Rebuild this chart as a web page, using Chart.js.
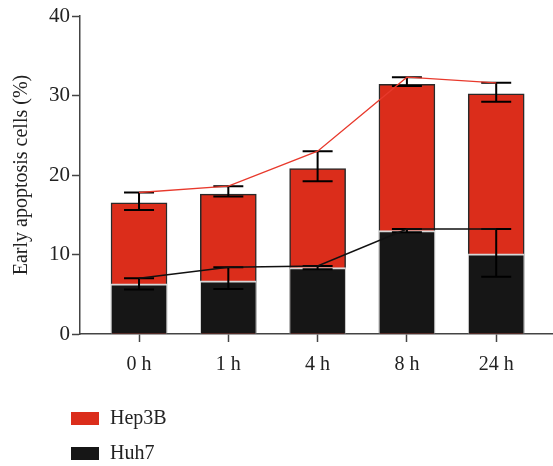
<!DOCTYPE html>
<html>
<head>
<meta charset="utf-8">
<script src="https://cdn.jsdelivr.net/npm/chart.js@4/dist/chart.umd.min.js"></script>
<style>
  html, body { margin: 0; padding: 0; background: #fff; }
  #chart { display: block; }
</style>
</head>
<body>
<canvas id="chart" width="553" height="466"></canvas>
<script>
// ---- data ----
const categories = ['0 h', '1 h', '4 h', '8 h', '24 h'];

const hep3bMean = [16.5, 17.6, 20.8, 31.4, 30.2];
const hep3bErrHigh = [17.8, 18.6, 23.0, 32.3, 31.6];
const hep3bErrLow = [15.6, 17.3, 19.2, 31.2, 29.2];

const huh7Mean = [6.3, 6.7, 8.35, 13.0, 10.1];
const huh7ErrHigh = [7.0, 8.4, 8.55, 13.2, 13.2];
const huh7ErrLow = [5.6, 5.65, 8.15, 12.8, 7.2];

const yTicks = [0, 10, 20, 30, 40];

const RED = '#db2d1b';
const BLACK = '#161616';
const FONT = "'Liberation Serif', 'DejaVu Serif', serif";

const toPoints = arr => arr.map((v, i) => ({ x: i, y: v }));

// error bars drawn right after their bar dataset
const errorBarPlugin = {
    id: 'errorBars',
    afterDatasetDraw(chart, args) {
        const ds = chart.data.datasets[args.index];
        if (!ds.errHigh) return;
        const { ctx } = chart;
        const y = chart.scales.y;
        ctx.save();
        ctx.strokeStyle = '#000';
        ctx.lineWidth = 2;
        args.meta.data.forEach((bar, i) => {
            const x = bar.x;
            const yHi = y.getPixelForValue(ds.errHigh[i]);
            const yLo = y.getPixelForValue(ds.errLow[i]);
            ctx.beginPath();
            ctx.moveTo(x, yHi);
            ctx.lineTo(x, yLo);
            ctx.moveTo(x - 15, yHi);
            ctx.lineTo(x + 15, yHi);
            ctx.moveTo(x - 15, yLo);
            ctx.lineTo(x + 15, yLo);
            ctx.stroke();
        });
        ctx.restore();
    }
};

// vertical legend under the x axis
const sideLegendPlugin = {
    id: 'sideLegend',
    afterDraw(chart) {
        const { ctx } = chart;
        const items = chart.data.datasets.filter(d => d.type === 'bar');
        ctx.save();
        ctx.font = `20px ${FONT}`;
        ctx.textBaseline = 'middle';
        items.forEach((d, i) => {
            const top = 412 + i * 35;
            ctx.fillStyle = d.backgroundColor;
            ctx.fillRect(71, top, 28, 13);
            ctx.fillStyle = '#222';
            ctx.fillText(d.label, 110, top + 6.5);
        });
        ctx.restore();
    }
};

const ctx = document.getElementById('chart').getContext('2d');

new Chart(ctx, {
    data: {
        datasets: [
            {
                type: 'line',
                label: 'Hep3B trend',
                data: toPoints(hep3bErrHigh),
                borderColor: '#e8392c',
                borderWidth: 1.3,
                pointRadius: 0,
                tension: 0,
                order: 0
            },
            {
                type: 'line',
                label: 'Huh7 trend',
                data: toPoints(huh7ErrHigh),
                borderColor: '#111',
                borderWidth: 1.5,
                pointRadius: 0,
                tension: 0,
                order: 1
            },
            {
                type: 'bar',
                label: 'Hep3B',
                data: toPoints(hep3bMean),
                errHigh: hep3bErrHigh,
                errLow: hep3bErrLow,
                backgroundColor: RED,
                borderColor: '#2a2a2a',
                borderWidth: { top: 1.5, left: 1.5, right: 1.5, bottom: 0 },
                borderSkipped: false,
                barThickness: 56,
                grouped: false,
                order: 3
            },
            {
                type: 'bar',
                label: 'Huh7',
                data: toPoints(huh7Mean),
                errHigh: huh7ErrHigh,
                errLow: huh7ErrLow,
                backgroundColor: BLACK,
                borderColor: '#d8d8d8',
                borderWidth: { top: 2, left: 1, right: 1, bottom: 0 },
                borderSkipped: false,
                barThickness: 56,
                grouped: false,
                order: 2
            }
        ]
    },
    options: {
        responsive: false,
        animation: false,
        layout: { padding: { top: 16, right: 0, bottom: 0, left: 0 } },
        plugins: {
            legend: { display: false },
            tooltip: { enabled: false }
        },
        scales: {
            x: {
                type: 'linear',
                offset: false,
                min: -0.661,
                max: 4.636,
                afterBuildTicks: scale => {
                    scale.ticks = categories.map((c, i) => ({ value: i }));
                },
                afterFit: scale => { scale.height = 132; },
                grid: {
                    offset: false,
                    drawOnChartArea: false,
                    drawTicks: true,
                    tickLength: 8,
                    tickWidth: 1.5,
                    color: '#444'
                },
                border: { display: true, color: '#444', width: 1.5 },
                ticks: {
                    autoSkip: false,
                    maxRotation: 0,
                    padding: 11,
                    color: '#222',
                    font: { family: FONT, size: 20 },
                    callback: value => categories[value]
                }
            },
            y: {
                min: 0,
                max: 40,
                afterBuildTicks: scale => {
                    scale.ticks = yTicks.map(v => ({ value: v }));
                },
                afterFit: scale => { scale.width = 80; },
                grid: {
                    drawOnChartArea: false,
                    drawTicks: true,
                    tickLength: 8,
                    tickWidth: 1.5,
                    color: '#444'
                },
                border: { display: true, color: '#444', width: 1.5 },
                ticks: {
                    padding: 2,
                    color: '#222',
                    font: { family: FONT, size: 21 }
                },
                title: {
                    display: true,
                    text: 'Early apoptosis cells (%)',
                    color: '#222',
                    font: { family: FONT, size: 20 },
                    padding: { top: 10, bottom: 0 }
                }
            }
        }
    },
    plugins: [errorBarPlugin, sideLegendPlugin]
});
</script>
</body>
</html>
